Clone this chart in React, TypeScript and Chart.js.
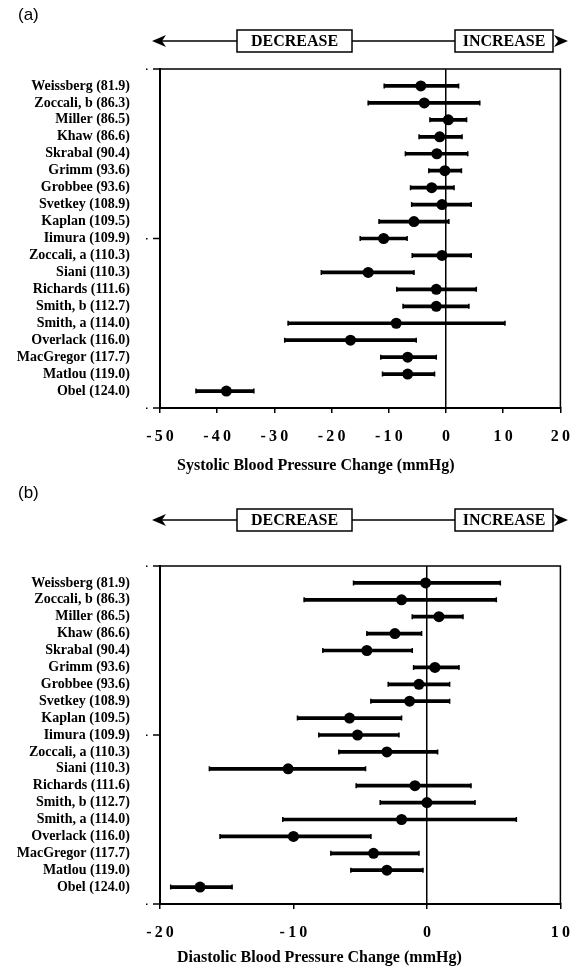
import React, { useEffect, useRef } from "react";
import { Chart, registerables } from "chart.js";

Chart.register(...registerables);

// ---------- data ----------
const STUDIES = [
  "Weissberg (81.9)",
  "Zoccali, b (86.3)",
  "Miller (86.5)",
  "Khaw (86.6)",
  "Skrabal (90.4)",
  "Grimm (93.6)",
  "Grobbee (93.6)",
  "Svetkey (108.9)",
  "Kaplan (109.5)",
  "Iimura (109.9)",
  "Zoccali, a (110.3)",
  "Siani (110.3)",
  "Richards (111.6)",
  "Smith, b (112.7)",
  "Smith, a (114.0)",
  "Overlack (116.0)",
  "MacGregor (117.7)",
  "Matlou (119.0)",
  "Obel (124.0)",
];

const SYS_MEAN = [-4.4, -3.8, 0.4, -1.1, -1.6, -0.2, -2.5, -0.7, -5.6, -10.9, -0.7, -13.6, -1.7, -1.7, -8.7, -16.7, -6.7, -6.7, -38.4];
const SYS_LOW = [-10.8, -13.6, -2.8, -4.7, -7.1, -3.0, -6.2, -6.0, -11.7, -15.0, -5.9, -21.8, -8.6, -7.5, -27.6, -28.2, -11.4, -11.1, -43.7];
const SYS_HIGH = [2.2, 5.9, 3.6, 2.8, 3.8, 2.7, 1.4, 4.4, 0.5, -6.8, 4.4, -5.6, 5.3, 4.0, 10.3, -5.2, -1.7, -2.0, -33.6];

const DIA_MEAN = [-0.1, -1.9, 0.9, -2.4, -4.5, 0.6, -0.6, -1.3, -5.8, -5.2, -3.0, -10.4, -0.9, 0.0, -1.9, -10.0, -4.0, -3.0, -17.0];
const DIA_LOW = [-5.5, -9.2, -1.1, -4.5, -7.8, -1.0, -2.9, -4.2, -9.7, -8.1, -6.6, -16.3, -5.3, -3.5, -10.8, -15.5, -7.2, -5.7, -19.2];
const DIA_HIGH = [5.5, 5.2, 2.7, -0.4, -1.1, 2.4, 1.7, 1.7, -1.9, -2.1, 0.8, -4.6, 3.3, 3.6, 6.7, -4.2, -0.6, -0.3, -14.6];

const SYS_TICKS = [-50, -40, -30, -20, -10, 0, 10, 20];
const DIA_TICKS = [-20, -10, 0, 10];
const Y_MARKS = [0, 10, 20];

const SYS_TITLE = "Systolic Blood Pressure Change (mmHg)";
const DIA_TITLE = "Diastolic Blood Pressure Change (mmHg)";

const SERIF = '"Liberation Serif", "Times New Roman", serif';
const SANS = '"Liberation Sans", Arial, sans-serif';

type PanelProps = {
  tag: string;
  title: string;
  mean: number[];
  low: number[];
  high: number[];
  ticks: number[];
  width: number;
  height: number;
  areaTop: number;
  areaBottom: number;
  headerY: number;
  tagY: number;
  titleX: number;
  titleY: number;
};

function arrowHead(ctx: CanvasRenderingContext2D, tipX: number, y: number, dir: number) {
  ctx.beginPath();
  ctx.moveTo(tipX, y);
  ctx.lineTo(tipX + dir * 14, y - 6);
  ctx.lineTo(tipX + dir * 10, y);
  ctx.lineTo(tipX + dir * 14, y + 6);
  ctx.closePath();
  ctx.fill();
}

function Panel(p: PanelProps) {
  const ref = useRef<HTMLCanvasElement | null>(null);

  useEffect(() => {
    if (!ref.current) return;
    const rows = STUDIES.map((_, i) => i + 1);

    const decor = {
      id: "decor",
      afterDraw(chart: any) {
        const ctx: CanvasRenderingContext2D = chart.ctx;
        const area = chart.chartArea;
        const ys = chart.scales.y;
        ctx.save();
        ctx.fillStyle = "#000";
        ctx.strokeStyle = "#000";

        // frame (top + right)
        ctx.lineWidth = 1.5;
        ctx.beginPath();
        ctx.moveTo(area.left, area.top);
        ctx.lineTo(area.right, area.top);
        ctx.lineTo(area.right, area.bottom);
        ctx.stroke();

        // small y tick marks
        ctx.lineWidth = 1.5;
        Y_MARKS.forEach((v) => {
          const py = ys.getPixelForValue(v);
          ctx.beginPath();
          ctx.moveTo(area.left - 7, py);
          ctx.lineTo(area.left, py);
          ctx.stroke();
          ctx.fillRect(area.left - 14, py - 0.5, 1.5, 1.5);
        });

        // header arrow
        const hy = p.headerY;
        const decL = 237, decR = 352, incL = 455, incR = 553;
        const tipL = 152, tipR = 568;
        ctx.lineWidth = 1.5;
        ctx.beginPath();
        ctx.moveTo(tipL + 8, hy);
        ctx.lineTo(decL, hy);
        ctx.moveTo(decR, hy);
        ctx.lineTo(incL, hy);
        ctx.stroke();
        arrowHead(ctx, tipL, hy, 1);
        arrowHead(ctx, tipR, hy, -1);
        ctx.lineWidth = 1.5;
        ctx.strokeRect(decL, hy - 11, decR - decL, 22);
        ctx.strokeRect(incL, hy - 11, incR - incL, 22);
        ctx.font = "bold 16px " + SERIF;
        ctx.textBaseline = "middle";
        ctx.textAlign = "center";
        ctx.fillText("DECREASE", (decL + decR) / 2, hy + 1);
        ctx.fillText("INCREASE", (incL + incR) / 2, hy + 1);

        // panel tag
        ctx.font = "17px " + SANS;
        ctx.textAlign = "left";
        ctx.fillText(p.tag, 18, p.tagY);

        // axis title
        ctx.font = "bold 16px " + SERIF;
        ctx.textAlign = "left";
        ctx.fillText(p.title, p.titleX, p.titleY);
        ctx.restore();
      },
    };

    const chart = new Chart(ref.current, {
      type: "bar",
      data: {
        datasets: [
          {
            type: "scatter",
            data: rows.map((r, i) => ({ x: p.mean[i], y: r })),
            pointRadius: 5.5,
            pointHoverRadius: 5.5,
            backgroundColor: "#000",
            borderWidth: 0,
            order: 0,
          } as any,
          {
            type: "scatter",
            data: rows
              .map((r, i) => ({ x: p.low[i], y: r }))
              .concat(rows.map((r, i) => ({ x: p.high[i], y: r }))),
            pointStyle: "line",
            rotation: 90,
            pointRadius: 2.5,
            borderColor: "#000",
            borderWidth: 1.5,
            order: 1,
          } as any,
          {
            type: "bar",
            indexAxis: "y",
            data: rows.map((r, i) => ({ y: r, x: [p.low[i], p.high[i]] })),
            backgroundColor: "#000",
            borderWidth: 0,
            barThickness: 3,
            order: 2,
          } as any,
        ],
      },
      options: {
        indexAxis: "y",
        animation: false,
        responsive: false,
        devicePixelRatio: 1,
        layout: { padding: { left: 0, right: p.width - 572, top: p.areaTop, bottom: 0 } },
        plugins: { legend: { display: false }, tooltip: { enabled: false } },
        scales: {
          x: {
            type: "linear",
            position: "bottom",
            min: p.ticks[0],
            max: p.ticks[p.ticks.length - 1],
            afterBuildTicks: (ax: any) => {
              ax.ticks = p.ticks.map((v) => ({ value: v }));
            },
            afterFit: (s: any) => {
              s.height = p.height - p.areaBottom;
            },
            ticks: {
              autoSkip: false,
              maxRotation: 0,
              padding: 14,
              color: "#000",
              font: { family: SERIF, size: 16, weight: "bold" },
              callback: (v: any) => String(v).split("").join("\u2009"),
            },
            grid: {
              offset: false,
              color: (c: any) => (c.tick && c.tick.value === 0 ? "#000" : "rgba(0,0,0,0)"),
              tickColor: "#000",
              tickLength: 5,
              lineWidth: 1.5,
              drawTicks: true,
            },
            border: { display: true, color: "#000", width: 2 },
          },
          y: {
            type: "linear",
            position: "left",
            min: 0,
            max: 20,
            reverse: true,
            offset: false,
            afterBuildTicks: (ax: any) => {
              ax.ticks = rows.map((v) => ({ value: v }));
            },
            afterFit: (s: any) => {
              s.width = 160;
            },
            ticks: {
              autoSkip: false,
              padding: 30,
              color: "#000",
              font: { family: SERIF, size: 14, weight: "bold" },
              callback: (v: any) => STUDIES[Number(v) - 1] ?? "",
            },
            grid: { display: true, drawOnChartArea: false, drawTicks: false, offset: false },
            border: { display: true, color: "#000", width: 2 },
          },
        },
      } as any,
      plugins: [decor],
    });
    return () => chart.destroy();
  }, []);

  return <canvas ref={ref} width={p.width} height={p.height} style={{ display: "block" }} />;
}

export default function App() {
  return (
    <div style={{ position: "absolute", left: 0, top: 0, width: 584, height: 973, background: "#fff" }}>
      <div style={{ position: "absolute", left: 0, top: 0 }}>
        <Panel
          tag="(a)"
          title={SYS_TITLE}
          mean={SYS_MEAN}
          low={SYS_LOW}
          high={SYS_HIGH}
          ticks={SYS_TICKS}
          width={584}
          height={480}
          areaTop={69}
          areaBottom={408}
          headerY={41}
          tagY={15}
          titleX={177}
          titleY={466}
        />
      </div>
      <div style={{ position: "absolute", left: 0, top: 480 }}>
        <Panel
          tag="(b)"
          title={DIA_TITLE}
          mean={DIA_MEAN}
          low={DIA_LOW}
          high={DIA_HIGH}
          ticks={DIA_TICKS}
          width={584}
          height={493}
          areaTop={86}
          areaBottom={424}
          headerY={40}
          tagY={13}
          titleX={177}
          titleY={478}
        />
      </div>
    </div>
  );
}
